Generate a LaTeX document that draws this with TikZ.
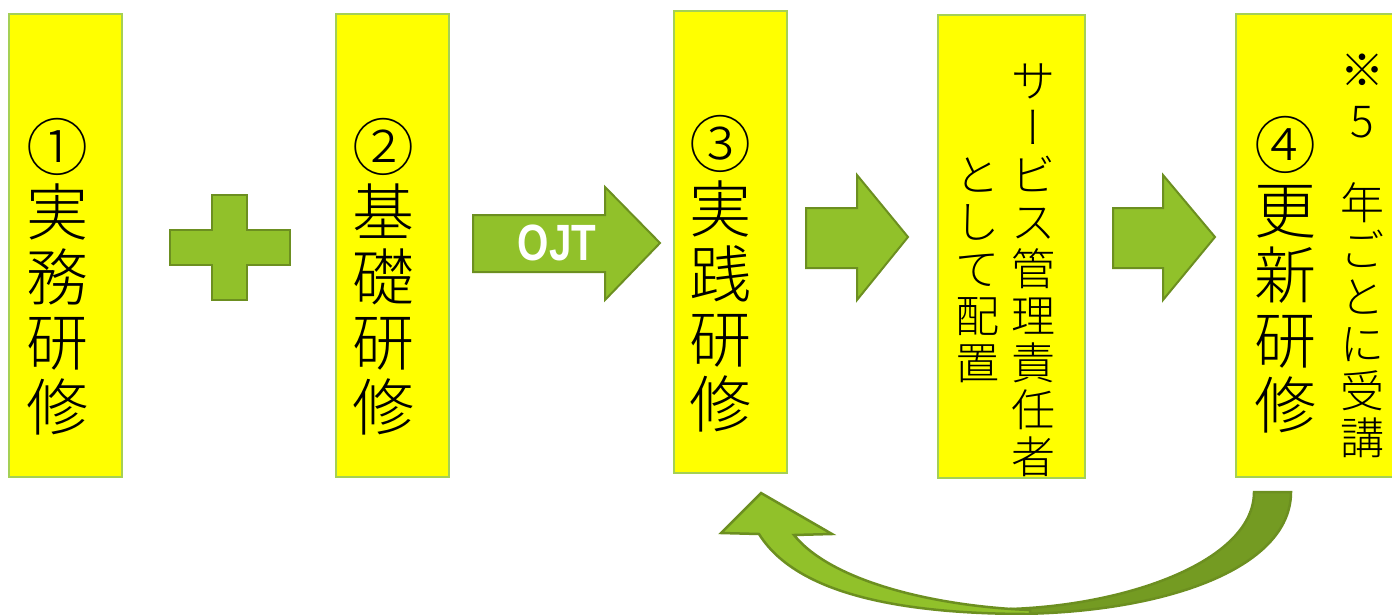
\documentclass[tikz,border=0pt]{standalone}
\usepackage{fontspec}
\newfontfamily\jp{Noto Sans CJK JP}[UprightFont=* Light]
\newfontfamily\jpv{Noto Sans CJK JP}[UprightFont=* Light, RawFeature=+vert]
\newfontfamily\ojtfont{Liberation Sans}
\definecolor{boxfill}{RGB}{255,255,0}
\definecolor{boxline}{RGB}{165,208,85}
\definecolor{arrfill}{RGB}{145,193,42}
\definecolor{arrline}{RGB}{108,143,32}
\definecolor{arrdark}{RGB}{116,155,34}
\definecolor{ojtwhite}{RGB}{255,255,255}
\begin{document}
\begin{tikzpicture}[x=1pt,y=-1pt,
  ybox/.style={fill=boxfill, draw=boxline, line width=1.5pt, inner sep=0pt, anchor=north west},
  big/.style={font=\jp\fontsize{62}{65}\selectfont, align=center, inner sep=0pt},
  mid/.style={font=\jp\fontsize{44}{47}\selectfont, align=center, inner sep=0pt},
  block/.style={fill=arrfill, draw=arrline, line width=2.5pt, line join=miter}]
\useasboundingbox (0,0) rectangle (1392,614);
% boxes
\node[ybox, minimum width=113pt, minimum height=463pt] (b1) at (8,13) {};
\node[ybox, minimum width=113pt, minimum height=463pt] (b2) at (335,13) {};
\node[ybox, minimum width=113pt, minimum height=462pt] (b3) at (673,10) {};
\node[ybox, minimum width=147pt, minimum height=463pt] (b4) at (937,14) {};
\node[ybox, minimum width=160pt, minimum height=463pt] (b5) at (1235,13) {};
% texts
\node[big] (t1) at (57,277) {①\\実\\務\\研\\修};
\node[big] (t2) at (383,277) {②\\基\\礎\\研\\修};
\node[big] (t3) at (720,274) {③\\実\\践\\研\\修};
\node[mid] (t4a) at (1033,270) {サ\\{\jpv ー}\\ビ\\ス\\管\\理\\責\\任\\者};
\node[mid] (t4b) at (977,270) {と\\し\\て\\配\\置};
\node[big] (t5a) at (1285,275) {④\\更\\新\\研\\修};
\node[mid] (t5b) at (1362,70) {※};
\node[mid] (t5c) at (1362,122) {5};
\node[mid] (t5d) at (1362,320) {年\\ご\\と\\に\\受\\講};
% plus
\draw[block] (212,195) -- (247,195) -- (247,230) -- (290,230) -- (290,265) -- (247,265)
  -- (247,300) -- (212,300) -- (212,265) -- (170,265) -- (170,230) -- (212,230) -- cycle;
% OJT arrow
\draw[block, line width=2pt] (473,215) -- (605,215) -- (605,187) -- (660,243) -- (605,300) -- (605,272) -- (473,272) -- cycle;
\node[font=\ojtfont\bfseries\fontsize{51}{51}\selectfont, text=ojtwhite, inner sep=0pt] (ojt) at (557,243) {\scalebox{0.79}[1]{OJT}};
% arrows
\draw[block, line width=2pt] (806,208) -- (857,208) -- (857,175) -- (908,237) -- (857,300) -- (857,268) -- (806,268) -- cycle;
\draw[block, line width=2pt] (1113,208) -- (1163,208) -- (1163,175) -- (1215,237) -- (1163,300) -- (1163,268) -- (1113,268) -- cycle;
% curved arrow
\draw[block, fill=arrdark] (1254,492) -- (1291,492) .. controls (1291,570) and (1160,614) .. (1010,614)
  .. controls (1010,612) and (1010,610) .. (1010,609) .. controls (1130,605) and (1254,560) .. (1254,492) -- cycle;
\draw[block] (721,533) -- (761,493) -- (832,534) -- (794,535) .. controls (830,580) and (930,606) .. (1030,610)
  -- (1030,614) .. controls (920,614) and (800,600) .. (759,534) -- cycle;
\end{tikzpicture}
\end{document}
